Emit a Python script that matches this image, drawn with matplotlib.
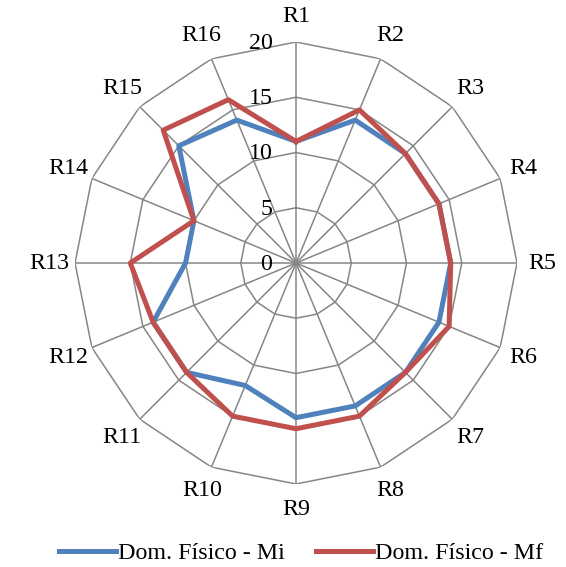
import numpy as np
import matplotlib
matplotlib.use("Agg")
import matplotlib.pyplot as plt

plt.rcParams['font.family'] = ['Liberation Serif', 'DejaVu Serif']

# regions and scores for each moment
labels = ['R1', 'R2', 'R3', 'R4', 'R5', 'R6', 'R7', 'R8',
          'R9', 'R10', 'R11', 'R12', 'R13', 'R14', 'R15', 'R16']
mi = [11, 14, 14, 14, 14, 14, 14, 14, 14, 12, 14, 14, 10, 10, 15, 14]
mf = [11, 15, 14, 14, 14, 15, 14, 15, 15, 15, 14, 14, 15, 10, 17, 16]
rings = [5, 10, 15, 20]
ring_labels = ['0', '5', '10', '15', '20']

BLUE = '#4F81BD'
RED = '#C0504D'
GRID = '#868686'
FS = 17.3

n = len(labels)
theta = np.linspace(0, 2 * np.pi, n, endpoint=False)
closed = np.append(theta, theta[0])

fig = plt.figure(figsize=(5.66, 5.67), dpi=100)
ax = fig.add_axes([0.1325, 0.1464, 0.781, 0.7795], projection='polar')
ax.set_theta_offset(np.pi / 2)
ax.set_theta_direction(-1)
ax.set_ylim(0, 20)
ax.grid(False)
ax.set_xticks([])
ax.set_yticks([])
ax.spines['polar'].set_visible(False)

# polygon grid and spokes
for r in rings:
    ax.plot(closed, [r] * (n + 1), color=GRID, lw=1.1, zorder=1)
for t in theta:
    ax.plot([t, t], [0, 20], color=GRID, lw=1.1, zorder=1)

ax.plot(closed, mi + mi[:1], color=BLUE, lw=3.6, zorder=3,
        label='Dom. Físico - Mi')
ax.plot(closed, mf + mf[:1], color=RED, lw=3.6, zorder=4,
        label='Dom. Físico - Mf')

# value labels along the first spoke
for i, txt in enumerate(ring_labels):
    ax.annotate(txt, xy=(0, i * 5), xytext=(-17, -1), textcoords='offset points',
                ha='right', va='center', fontsize=FS, zorder=5)

for t, lab in zip(theta, labels):
    ax.text(t, 22.3, lab, ha='center', va='center', fontsize=FS, clip_on=False)

fig.legend(loc='center', bbox_to_anchor=(0.532, 14 / 567), ncol=2, frameon=False,
           fontsize=FS, handlelength=2.35, handletextpad=0.1, columnspacing=1.3,
           borderaxespad=0)

fig.savefig('out.png', dpi=100)
